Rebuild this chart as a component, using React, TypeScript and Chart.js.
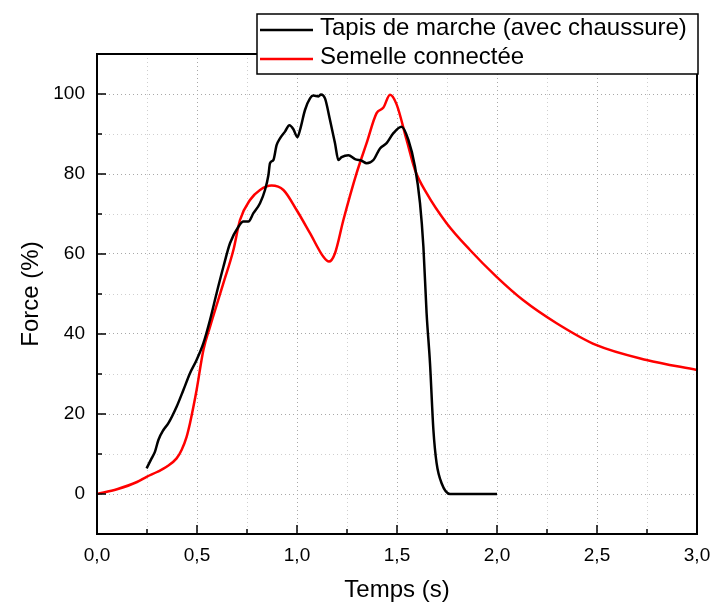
import React, { useEffect, useRef } from 'react';
import { Chart, registerables } from 'chart.js';

Chart.register(...registerables);

// ---- Data ----
const seriesNames = ['Tapis de marche (avec chaussure)', 'Semelle connectée'];

const tapisTime = [
  0.248, 0.273, 0.29, 0.307, 0.332, 0.357, 0.398, 0.432, 0.465, 0.498, 0.532, 0.565, 0.598, 0.632,
  0.665, 0.707, 0.732, 0.757, 0.782, 0.815, 0.84, 0.857, 0.865, 0.882, 0.898, 0.915, 0.94, 0.962,
  0.982, 1.002, 1.015, 1.04, 1.065, 1.082, 1.107, 1.12, 1.14, 1.165, 1.19, 1.207, 1.223, 1.257,
  1.29, 1.323, 1.348, 1.382, 1.415, 1.448, 1.482, 1.523, 1.557, 1.59, 1.615, 1.632, 1.648, 1.665,
  1.682, 1.698, 1.723, 1.765, 2.0,
];
const tapisForce = [
  6.4, 8.9, 10.6, 13.5, 16.0, 17.7, 21.8, 26.0, 30.2, 33.5, 37.7, 43.5, 50.2, 56.8,
  62.7, 66.8, 68.1, 68.1, 70.2, 72.7, 76.0, 79.7, 82.7, 83.5, 87.2, 88.9, 90.6, 92.2,
  91.2, 89.2, 91.0, 96.0, 98.9, 99.6, 99.4, 99.9, 98.9, 93.5, 87.7, 83.5, 84.2, 84.7,
  83.7, 83.3, 82.7, 83.5, 86.4, 87.7, 90.2, 91.8, 88.5, 81.8, 72.7, 61.8, 45.2, 32.7,
  16.0, 7.7, 2.7, 0, 0,
];

const semelleTime = [
  0, 0.1, 0.2, 0.248, 0.3, 0.348, 0.398, 0.423, 0.448, 0.465, 0.482, 0.498, 0.532, 0.565,
  0.632, 0.682, 0.715, 0.765, 0.815, 0.873, 0.932, 0.998, 1.065, 1.132, 1.16, 1.19, 1.232,
  1.298, 1.348, 1.398, 1.432, 1.465, 1.498, 1.548, 1.59, 1.648, 1.748, 1.865, 1.998, 2.13,
  2.298, 2.498, 2.748, 3.0,
];
const semelleForce = [
  0, 1.2, 3.0, 4.3, 5.5, 6.8, 8.9, 11.0, 14.3, 17.7, 21.8, 26.0, 36.0, 41.8,
  52.7, 61.0, 68.5, 73.5, 76.0, 77.1, 76.0, 71.0, 65.2, 59.3, 58.1, 60.2, 68.5,
  80.2, 87.7, 95.2, 96.6, 99.8, 97.4, 88.5, 81.0, 75.2, 67.7, 61.0, 54.3, 48.5,
  42.7, 37.2, 33.5, 31.0,
];

const xMajorTicks = [0, 0.5, 1.0, 1.5, 2.0, 2.5, 3.0];
const xTickLabels = ['0,0', '0,5', '1,0', '1,5', '2,0', '2,5', '3,0'];
const yMajorTicks = [0, 20, 40, 60, 80, 100];
const yTickLabels = ['0', '20', '40', '60', '80', '100'];

const xTitle = 'Temps (s)';
const yTitle = 'Force (%)';
const seriesColors = ['#000000', '#ff0000'];

const FONT = '"Liberation Sans", Arial, Helvetica, sans-serif';

const near = (a: number, b: number) => Math.abs(a - b) < 1e-6;
const majorIndex = (list: number[], v: number) => list.findIndex((m) => near(m, v));

const framePlugin = {
  id: 'frameAndLegend',
  afterDatasetsDraw(chart: any) {
    const { ctx, chartArea } = chart;
    const { left, right, top, bottom } = chartArea;
    const xs = chart.scales.x;
    const ys = chart.scales.y;
    ctx.save();
    ctx.strokeStyle = '#000';
    ctx.lineWidth = 1.5;
    ctx.setLineDash([]);
    // inward ticks on bottom axis
    xs.ticks.forEach((t: any) => {
      const px = xs.getPixelForValue(t.value);
      const len = majorIndex(xMajorTicks, t.value) >= 0 ? 9 : 5;
      ctx.beginPath();
      ctx.moveTo(px, bottom);
      ctx.lineTo(px, bottom - len);
      ctx.stroke();
    });
    // inward ticks on left axis
    ys.ticks.forEach((t: any) => {
      const py = ys.getPixelForValue(t.value);
      const len = majorIndex(yMajorTicks, t.value) >= 0 ? 9 : 5;
      ctx.beginPath();
      ctx.moveTo(left, py);
      ctx.lineTo(left + len, py);
      ctx.stroke();
    });
    // frame
    ctx.lineWidth = 2;
    ctx.strokeRect(left, top, right - left, bottom - top);

    // legend box
    const bx = 257;
    const by = 14;
    const bw = right + 1 - bx;
    const bh = 60;
    ctx.fillStyle = '#fff';
    ctx.fillRect(bx, by, bw, bh);
    ctx.lineWidth = 1.5;
    ctx.strokeRect(bx, by, bw, bh);
    const rows = [30, 59];
    ctx.font = `24px ${FONT}`;
    ctx.textBaseline = 'middle';
    ctx.textAlign = 'left';
    seriesNames.forEach((name, i) => {
      ctx.strokeStyle = seriesColors[i];
      ctx.lineWidth = 2.5;
      ctx.beginPath();
      ctx.moveTo(260, rows[i]);
      ctx.lineTo(313, rows[i]);
      ctx.stroke();
      ctx.fillStyle = '#000';
      ctx.fillText(name, 320, rows[i] - 1.5);
    });
    ctx.restore();
  },
};

export default function App() {
  const ref = useRef<HTMLCanvasElement | null>(null);

  useEffect(() => {
    if (!ref.current) return;
    const chart = new Chart(ref.current, {
      type: 'line',
      data: {
        datasets: [
          {
            label: seriesNames[0],
            data: tapisTime.map((t, i) => ({ x: t, y: tapisForce[i] })),
            borderColor: seriesColors[0],
            backgroundColor: seriesColors[0],
            borderWidth: 2.5,
            pointRadius: 0,
            cubicInterpolationMode: 'monotone',
            fill: false,
          },
          {
            label: seriesNames[1],
            data: semelleTime.map((t, i) => ({ x: t, y: semelleForce[i] })),
            borderColor: seriesColors[1],
            backgroundColor: seriesColors[1],
            borderWidth: 2.5,
            pointRadius: 0,
            cubicInterpolationMode: 'monotone',
            fill: false,
          },
        ],
      },
      options: {
        responsive: false,
        animation: false,
        events: [],
        layout: { padding: { top: 54, right: 16, left: 0, bottom: 0 } },
        plugins: {
          legend: { display: false },
          tooltip: { enabled: false },
          title: { display: false },
        },
        scales: {
          x: {
            type: 'linear',
            min: 0,
            max: 3,
            afterFit: (s: any) => {
              s.height = 72;
              s.paddingLeft = 0;
              s.paddingRight = 0;
            },
            ticks: {
              stepSize: 0.25,
              autoSkip: false,
              maxRotation: 0,
              padding: 10,
              color: '#000',
              font: { family: FONT, size: 19 },
              callback: (v: any) => {
                const i = majorIndex(xMajorTicks, Number(v));
                return i >= 0 ? xTickLabels[i] : '';
              },
            },
            grid: {
              drawTicks: false,
              lineWidth: 1,
              color: (c: any) =>
                c.tick && majorIndex(xMajorTicks, c.tick.value) >= 0 ? '#a8a8a8' : '#cfcfcf',
            },
            border: { display: false, dash: [1, 3] },
            title: {
              display: true,
              text: xTitle,
              color: '#000',
              font: { family: FONT, size: 24 },
              padding: { top: 0, bottom: 1 },
            },
          },
          y: {
            type: 'linear',
            min: -10,
            max: 110,
            afterFit: (s: any) => {
              s.width = 97;
              s.paddingTop = 0;
              s.paddingBottom = 0;
            },
            ticks: {
              stepSize: 10,
              autoSkip: false,
              padding: 12,
              color: '#000',
              font: { family: FONT, size: 19 },
              callback: (v: any) => {
                const i = majorIndex(yMajorTicks, Number(v));
                return i >= 0 ? yTickLabels[i] : '';
              },
            },
            grid: {
              drawTicks: false,
              lineWidth: 1,
              color: (c: any) =>
                c.tick && majorIndex(yMajorTicks, c.tick.value) >= 0 ? '#a8a8a8' : '#cfcfcf',
            },
            border: { display: false, dash: [1, 3] },
            title: {
              display: true,
              text: yTitle,
              color: '#000',
              font: { family: FONT, size: 24 },
              padding: { top: 17, bottom: 0 },
            },
          },
        },
      },
      plugins: [framePlugin],
    });
    return () => chart.destroy();
  }, []);

  return (
    <div style={{ position: 'absolute', left: 0, top: 0, width: 713, height: 606, background: '#fff' }}>
      <canvas ref={ref} width={713} height={606} style={{ display: 'block' }} />
    </div>
  );
}
